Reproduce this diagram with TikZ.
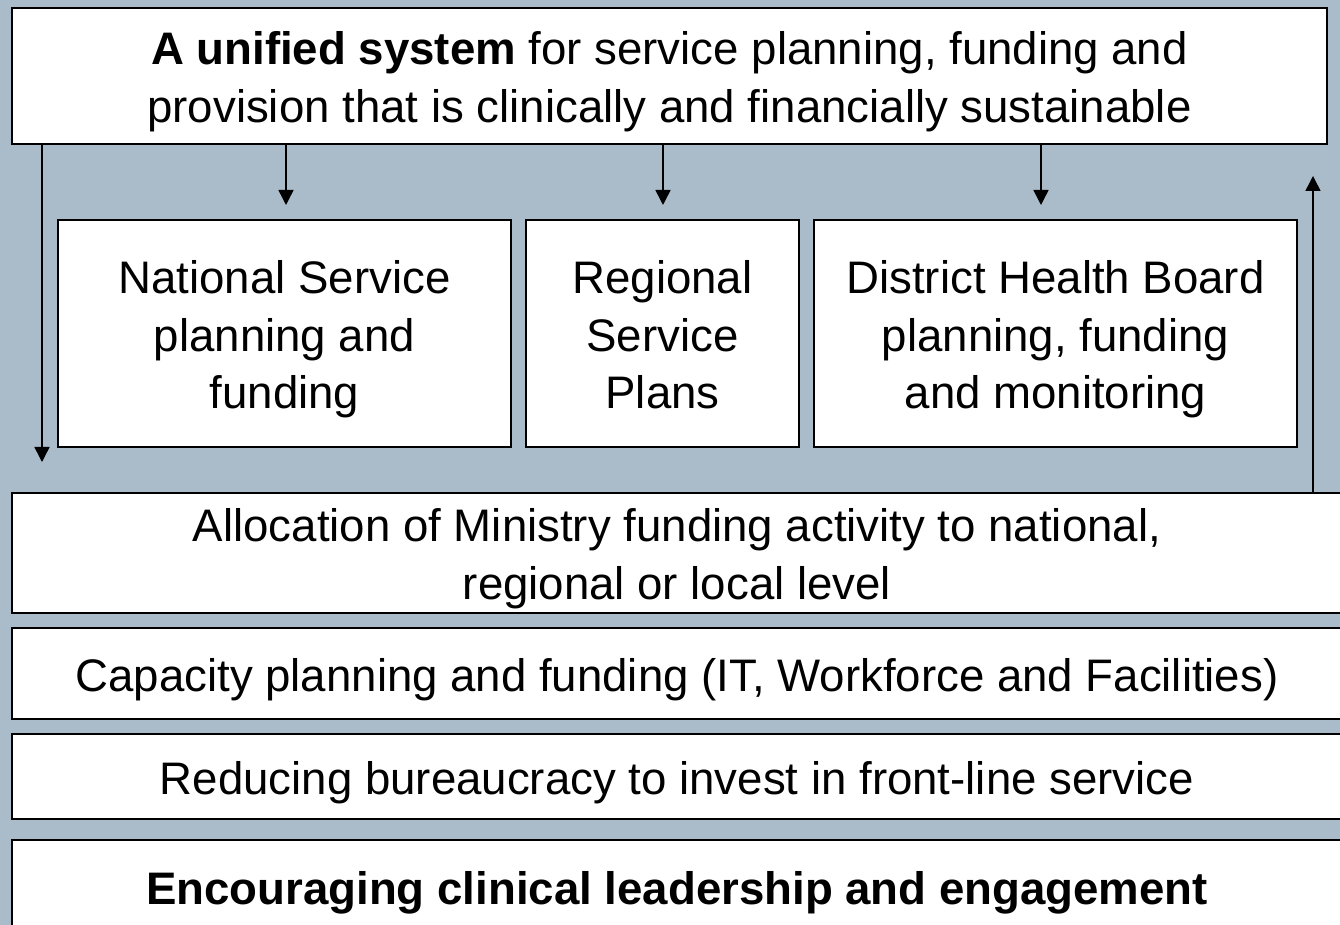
\documentclass[tikz,border=0pt]{standalone}
\usepackage{fontspec}
\setmainfont{Liberation Sans}
\usepackage{tikz}
\usepackage{xcolor}
\definecolor{slate}{RGB}{170,187,202}
\usetikzlibrary{arrows.meta}
\newcommand{\topline}{\rule{0pt}{22.6pt}}
\tikzset{
  box/.style={draw=black, fill=white, line width=1.25pt, inner sep=0pt, align=center,
    font=\fontsize{22.8}{28.8}\selectfont,
    execute at begin node=\topline, execute at end node=\rule[-5pt]{0pt}{0pt}},
  arr/.style={line width=0.75pt, -{Triangle[length=7.5pt,width=7.5pt]}}
}

\begin{document}
\begin{tikzpicture}[line cap=butt, line join=miter, x=0.5pt, y=-0.5pt]
    \fill[slate] (0,0) rectangle (1340,925);
    \useasboundingbox (0,0) rectangle (1340,925);
    % top goal
    \node[box, minimum width=657.5pt, minimum height=68pt] (goal) at (669.5,76)
        {\topline\textbf{A unified system} for service planning, funding and\\
         provision that is clinically and financially sustainable};
    % planning levels
    \node[box, minimum width=226.5pt, minimum height=113.5pt] (nat) at (284.5,333.5)
        {\topline National Service\\planning and\\funding};
    \node[box, minimum width=136.5pt, minimum height=113.5pt] (reg) at (662.5,333.5)
        {\topline Regional\\Service\\Plans};
    \node[box, minimum width=241.5pt, minimum height=113.5pt] (dhb) at (1055.5,333.5)
        {\topline District Health Board\\planning, funding\\and monitoring};
    % enablers
    \node[box, minimum width=665pt, minimum height=60pt] (alloc) at (677,553)
        {\topline Allocation of Ministry funding activity to national,\\regional or local level};
    \node[box, minimum width=665pt, minimum height=45.5pt] (cap) at (677,673.5)
        {Capacity planning and funding (IT, Workforce and Facilities)};
    \node[box, minimum width=665pt, minimum height=42.5pt] (red) at (677,776.5)
        {Reducing bureaucracy to invest in front-line service};
    \node[box, minimum width=665pt, minimum height=47pt] (enc) at (677,887)
        {\textbf{Encouraging clinical leadership and engagement}};
    % arrows
    \coordinate (tipL) at (42,462);
    \coordinate (tipN) at (286,205);
    \coordinate (tipR) at (663,205);
    \coordinate (tipD) at (1041,205);
    \coordinate (tipU) at (1313,176);
    \draw[arr] (goal.south -| tipL) -- (tipL);
    \draw[arr] (goal.south -| tipN) -- (tipN);
    \draw[arr] (goal.south -| tipR) -- (tipR);
    \draw[arr] (goal.south -| tipD) -- (tipD);
    \draw[arr] (alloc.north -| tipU) -- (tipU);
\end{tikzpicture}
\end{document}
